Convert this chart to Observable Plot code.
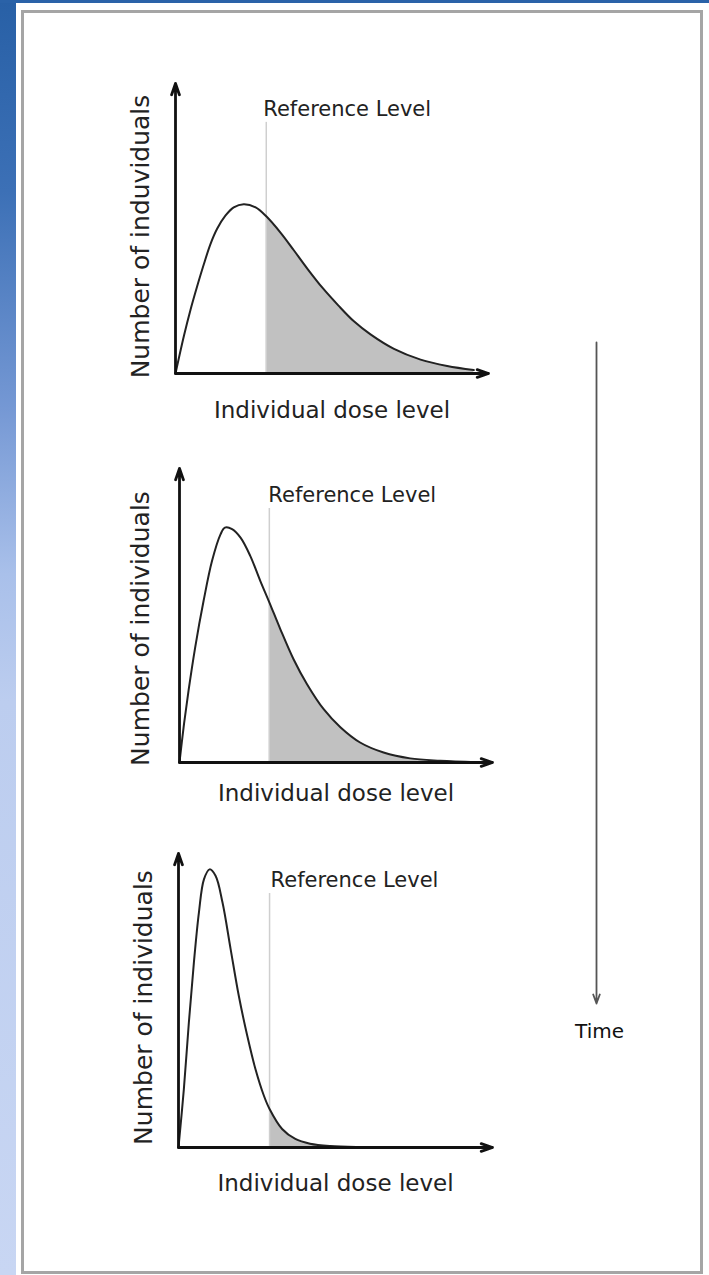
<!DOCTYPE html>
<html><head><meta charset="utf-8">
<script src="https://cdn.jsdelivr.net/npm/d3@7"></script>
<script src="https://cdn.jsdelivr.net/npm/@observablehq/plot@0.6"></script>
<style>
html,body{margin:0;padding:0;background:#fff;}
#page{position:relative;width:709px;height:1275px;overflow:hidden;background:#fff;}
#sideband{position:absolute;left:0;top:0;width:16px;height:1275px;background:linear-gradient(to bottom,#2860a6 0%,#3c70b6 15%,#7598d4 32%,#a9c0ea 45%,#bccdef 55%,#c8d6f3 100%);}
#topband{position:absolute;left:0;top:0;width:709px;height:3px;background:#2a62a8;}
#frame{position:absolute;left:21px;top:10px;width:676px;height:1258px;border:3px solid #a5a5a5;}
.panel{position:absolute;left:0;}
.panel svg{overflow:visible;}
</style>
</head><body>
<div id="page">
  <div id="sideband"></div>
  <div id="topband"></div>
  <div id="frame"></div>
</div>
<script>
// ---- data (dose level vs number of individuals, arbitrary units 0..10) ----
const panel1Dose  = [0, 0.27, 0.48, 0.69, 0.9, 1.12, 1.33, 1.6, 1.86, 2.18, 2.56, 2.9, 3.36, 3.78, 4.21, 4.7, 5.2, 5.7, 6.23, 6.98, 7.83, 8.68, 9.53];
const panel1Count = [0, 1.3, 2.2, 3.0, 3.75, 4.47, 4.99, 5.45, 5.73, 5.84, 5.73, 5.42, 4.85, 4.25, 3.62, 2.95, 2.35, 1.8, 1.35, 0.85, 0.48, 0.26, 0.12];

const panel2Dose  = [0, 0.13, 0.29, 0.5, 0.77, 1.04, 1.31, 1.45, 1.68, 1.95, 2.26, 2.58, 2.87, 3.22, 3.64, 4.07, 4.6, 5.14, 5.77, 6.52, 7.37, 8.33, 9.5];
const panel2Count = [0, 1.19, 2.45, 3.91, 5.5, 6.86, 7.76, 7.99, 7.94, 7.65, 7.03, 6.18, 5.45, 4.54, 3.52, 2.67, 1.82, 1.2, 0.68, 0.34, 0.14, 0.06, 0.01];

const panel3Dose  = [0, 0.17, 0.33, 0.49, 0.65, 0.81, 0.99, 1.18, 1.4, 1.66, 1.92, 2.19, 2.45, 2.72, 2.9, 3.3, 3.72, 4.19, 4.83, 5.79, 7.5, 9.5];
const panel3Count = [0, 1.98, 4.25, 6.29, 7.99, 9.12, 9.46, 9.24, 8.34, 6.75, 5.16, 3.8, 2.67, 1.76, 1.31, 0.63, 0.29, 0.13, 0.05, 0.015, 0.004, 0];

const referenceDose = [2.9, 2.87, 2.9];
const referenceTop  = [8.66, 8.64, 8.64];
const axisMax = 10;

const yLabels = ["Number of induviduals", "Number of individuals", "Number of individuals"];
const xLabel = "Individual dose level";
const refLabel = "Reference Level";
const timeLabel = "Time";

// ---- layout (pixels) ----
const layout = [
  {top: 43,  height: 390, ml: 175, mr: 221, xdy: 37, ydx: -35, ydy: 8,  rdx: -3},
  {top: 428, height: 394, ml: 179, mr: 217, xdy: 31, ydx: -39, ydy: 13, rdx: -1},
  {top: 813, height: 394, ml: 178, mr: 217, xdy: 36, ydx: -35, ydy: 7,  rdx: 1}
];
const doses = [panel1Dose, panel2Dose, panel3Dose];
const counts = [panel1Count, panel2Count, panel3Count];
const FONT = "DejaVu Sans";
const INK = "#222";

const page = document.getElementById("page");

doses.forEach((dose, p) => {
  const L = layout[p];
  const ref = referenceDose[p];
  const data = dose.map((d, i) => ({dose: d, count: counts[p][i]}));
  const tail = data.filter(d => d.dose >= ref);
  const axes = [
    {x1: 0, y1: 0, x2: axisMax, y2: 0},
    {x1: 0, y1: 0, x2: 0, y2: axisMax}
  ];
  const chart = Plot.plot({
    width: 709, height: L.height,
    marginLeft: L.ml, marginRight: L.mr, marginTop: 40, marginBottom: 60,
    x: {domain: [0, axisMax], axis: null},
    y: {domain: [0, axisMax], axis: null},
    style: {fontFamily: FONT, background: "transparent", overflow: "visible"},
    marks: [
      Plot.areaY(tail, {x: "dose", y: "count", fill: "#c1c1c1", curve: "catmull-rom"}),
      Plot.ruleX([ref], {y1: 0, y2: referenceTop[p], stroke: "#cfcfcf", strokeWidth: 1.5}),
      Plot.line(data, {x: "dose", y: "count", stroke: "#222", strokeWidth: 2, curve: "catmull-rom"}),
      Plot.arrow(axes, {x1: "x1", y1: "y1", x2: "x2", y2: "y2", stroke: "#111", strokeWidth: 2.8, headLength: 6.4, headAngle: 38}),
      Plot.text([{dose: ref, count: referenceTop[p], label: refLabel}], {
        x: "dose", y: "count", text: "label", textAnchor: "start", lineAnchor: "bottom",
        dx: L.rdx, dy: -6, fontSize: 21, fill: INK
      }),
      Plot.text([yLabels[p]], {frameAnchor: "left", text: d => d, rotate: -90, textAnchor: "middle", lineAnchor: "middle",
        dx: L.ydx, dy: L.ydy, fontSize: 25, fill: INK}),
      Plot.text([xLabel], {frameAnchor: "bottom", text: d => d, textAnchor: "middle", lineAnchor: "middle",
        dy: L.xdy, fontSize: 23, fill: INK})
    ]
  });
  const div = document.createElement("div");
  div.className = "panel";
  div.style.top = L.top + "px";
  div.appendChild(chart);
  page.appendChild(div);
});

// ---- Time arrow ----
const timeSpan = [{label: timeLabel, start: 0, end: 1}];
const timeChart = Plot.plot({
  width: 120, height: 761, marginLeft: 0, marginRight: 0, marginTop: 40, marginBottom: 60,
  x: {type: "point", domain: [timeLabel], axis: null},
  y: {domain: [0, 1], reverse: true, axis: null},
  style: {fontFamily: FONT, background: "transparent", overflow: "visible"},
  marks: [
    Plot.arrow(timeSpan, {x: "label", y1: "start", y2: "end", stroke: "#555", strokeWidth: 1.8, headLength: 8, headAngle: 40}),
    Plot.text(timeSpan, {x: "label", y: "end", text: "label", dx: 3, dy: 28, fontSize: 20, fill: "#111", lineAnchor: "middle"})
  ]
});
const tdiv = document.createElement("div");
tdiv.className = "panel";
tdiv.style.left = "536px";
tdiv.style.top = "302px";
tdiv.appendChild(timeChart);
page.appendChild(tdiv);
</script>
</body></html>
